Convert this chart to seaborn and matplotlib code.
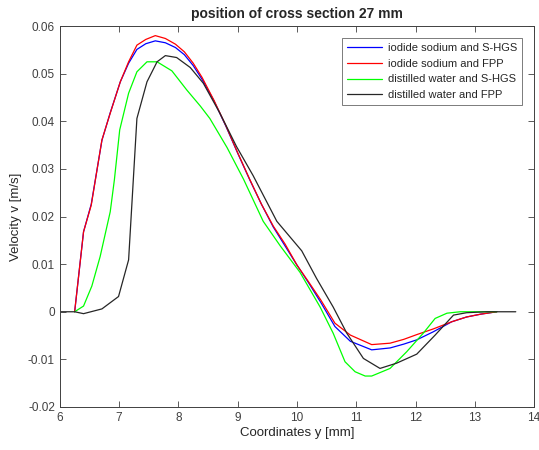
import numpy as np
import pandas as pd
import seaborn as sns
from matplotlib import pyplot as plt

# series (coordinate y in mm, velocity in m/s)
x_is_hgs = [6.25, 6.40, 6.53, 6.71, 6.85, 7.02, 7.16, 7.30, 7.45, 7.61, 7.78, 7.95, 8.10, 8.25, 8.40,
            8.60, 8.80, 9.00, 9.20, 9.40, 9.60, 9.80, 10.00, 10.20, 10.40, 10.64, 10.90, 11.26, 11.57,
            11.80, 12.02, 12.30, 12.61, 12.86, 13.10, 13.37]
v_is_hgs = [0, 0.0168, 0.0226, 0.0360, 0.0418, 0.0483, 0.0522, 0.0551, 0.0563, 0.0569, 0.0565, 0.0555,
            0.0540, 0.0517, 0.0488, 0.0443, 0.0390, 0.0333, 0.0278, 0.0226, 0.0178, 0.0138, 0.0098,
            0.0060, 0.0020, -0.0031, -0.0062, -0.0080, -0.0076, -0.0068, -0.0059, -0.0042, -0.0021,
            -0.0011, -0.0005, 0]

x_is_fpp = x_is_hgs
v_is_fpp = [0, 0.0168, 0.0224, 0.0361, 0.0417, 0.0483, 0.0525, 0.0560, 0.0572, 0.0580, 0.0574, 0.0562,
            0.0546, 0.0522, 0.0492, 0.0444, 0.0391, 0.0334, 0.0279, 0.0226, 0.0180, 0.0142, 0.0098,
            0.0062, 0.0025, -0.0024, -0.0049, -0.0069, -0.0066, -0.0058, -0.0048, -0.0036, -0.0021,
            -0.0011, -0.0005, 0]

x_dw_hgs = [6.25, 6.40, 6.54, 6.68, 6.85, 6.92, 7.01, 7.16, 7.30, 7.47, 7.64, 7.89, 8.14, 8.37, 8.53,
            8.82, 9.10, 9.43, 9.72, 10.05, 10.39, 10.61, 10.81, 10.98, 11.15, 11.26, 11.57, 11.85,
            12.13, 12.33, 12.53, 12.75, 13.00, 13.37]
v_dw_hgs = [0, 0.0012, 0.0054, 0.0116, 0.0210, 0.0277, 0.0382, 0.0459, 0.0504, 0.0525, 0.0525, 0.0506,
            0.0466, 0.0432, 0.0406, 0.0345, 0.0278, 0.0190, 0.0138, 0.0083, 0.0010, -0.0045, -0.0105,
            -0.0126, -0.0135, -0.0135, -0.0119, -0.0084, -0.0045, -0.0014, -0.0003, 0, 0, 0]

x_dw_fpp = [6.00, 6.25, 6.40, 6.71, 6.99, 7.16, 7.30, 7.47, 7.64, 7.78, 7.97, 8.20, 8.42, 8.70, 8.98,
            9.26, 9.66, 10.08, 10.33, 10.61, 10.84, 11.12, 11.40, 11.68, 12.02, 12.33, 12.64, 12.86,
            13.20, 13.69]
v_dw_fpp = [0, 0, -0.0004, 0.0006, 0.0032, 0.0109, 0.0406, 0.0483, 0.0525, 0.0538, 0.0534, 0.0513,
            0.0480, 0.0417, 0.0347, 0.0286, 0.0190, 0.0128, 0.0070, 0.0010, -0.0045, -0.0098, -0.0119,
            -0.0108, -0.0089, -0.0049, -0.0007, -0.0002, 0, 0]

labels = ['iodide sodium and S-HGS', 'iodide sodium and FPP',
          'distilled water and S-HGS', 'distilled water and FPP']
colors = ['#0000ff', '#ff0000', '#00ff00', '#262626']

xticks = [6, 7, 8, 9, 10, 11, 12, 13, 14]
yticks = [-0.02, -0.01, 0, 0.01, 0.02, 0.03, 0.04, 0.05, 0.06]
ytick_labels = ['-0.02', '-0.01', '0', '0.01', '0.02', '0.03', '0.04', '0.05', '0.06']

frames = []
for lab, xs, vs in zip(labels, [x_is_hgs, x_is_fpp, x_dw_hgs, x_dw_fpp],
                       [v_is_hgs, v_is_fpp, v_dw_hgs, v_dw_fpp]):
    frames.append(pd.DataFrame({'y': xs, 'v': vs, 'case': lab}))
df = pd.concat(frames, ignore_index=True)

sns.set_theme(style='white')
plt.rcParams['font.family'] = ['Liberation Sans', 'DejaVu Sans']

fig = plt.figure(figsize=(5.39, 4.5), dpi=100)
ax = fig.add_axes([0.111, 0.0956, 0.880, 0.8464])
sns.lineplot(data=df, x='y', y='v', hue='case', palette=colors, hue_order=labels,
             sort=False, estimator=None, linewidth=0.9, ax=ax)

ax.set_xlim(6, 14)
ax.set_ylim(-0.02, 0.06)
ax.set_xticks(xticks)
ax.set_xticklabels([str(t) for t in xticks])
ax.set_yticks(yticks)
ax.set_yticklabels(ytick_labels)
ax.tick_params(direction='in', length=4, width=0.6, colors='#404040', labelsize=8.5,
               top=True, right=True, bottom=True, left=True)
for sp in ax.spines.values():
    sp.set_color('#404040')
    sp.set_linewidth(0.7)

ax.set_title('position of cross section 27 mm', fontsize=10, fontweight='bold', pad=6)
ax.set_xlabel('Coordinates y [mm]', fontsize=9.5, color='#262626', labelpad=2)
ax.set_ylabel('Velocity v [m/s]', fontsize=9.5, color='#262626', labelpad=4)

leg = ax.legend(loc='upper right', bbox_to_anchor=(0.975, 0.968), borderaxespad=0, fontsize=8,
                handlelength=3.15, frameon=True, fancybox=False, borderpad=0.45, labelspacing=0.5,
                handletextpad=0.55)
leg.get_frame().set_edgecolor('#404040')
leg.get_frame().set_linewidth(0.6)

fig.savefig('out.png', dpi=100, facecolor='white')
